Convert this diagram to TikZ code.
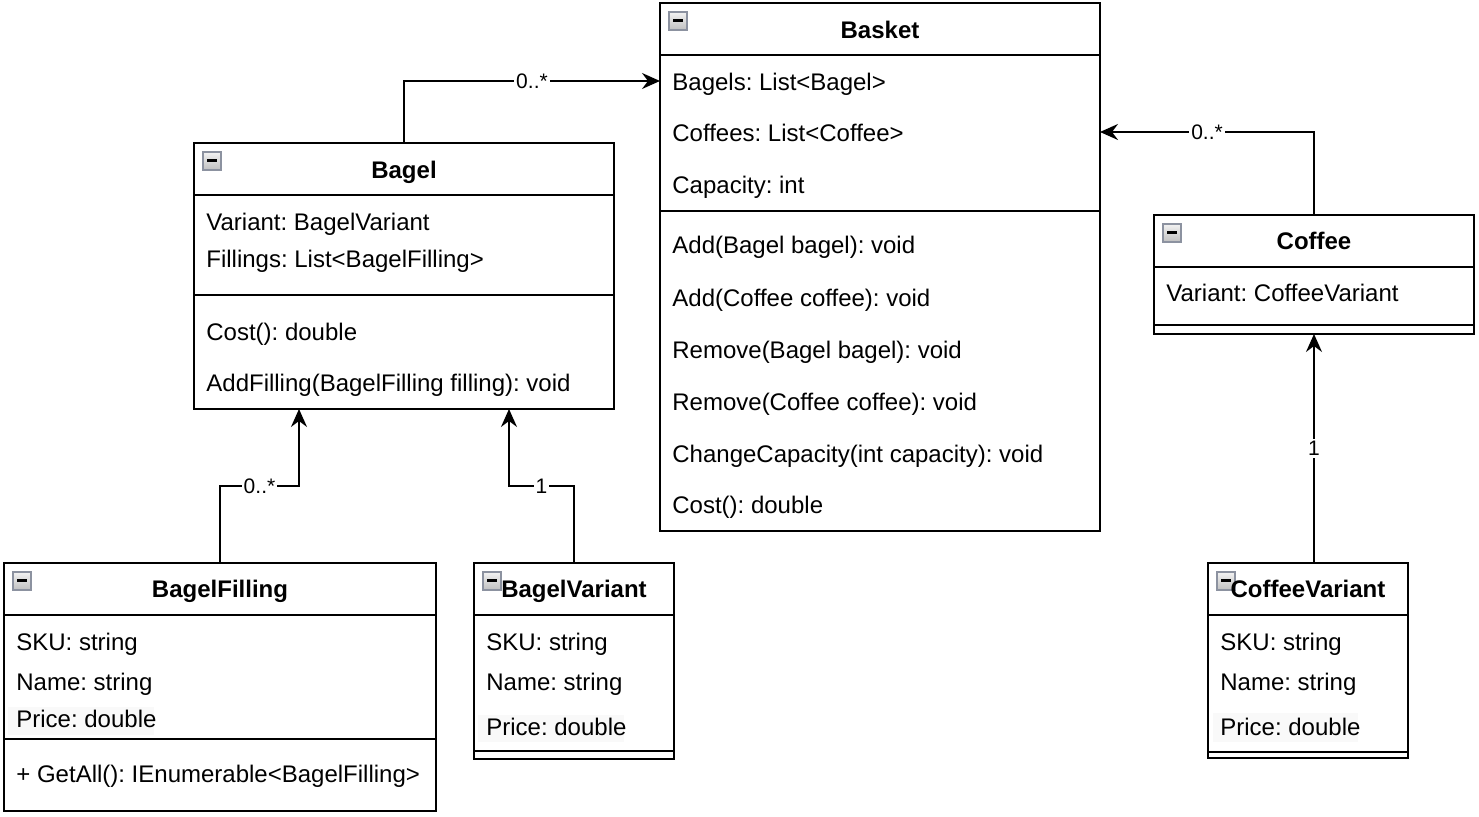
\documentclass[tikz,border=0pt]{standalone}
\usepackage{fontspec}
\setmainfont{Liberation Sans}
\usetikzlibrary{arrows.meta,calc}
\definecolor{iconborder}{RGB}{140,146,160}
\definecolor{faint}{RGB}{249,249,249}
\tikzset{
  collapse/.pic={
    \draw[line width=0.7pt, draw=iconborder, top color=gray!10, bottom color=gray!50] (0,0) rectangle (18,18);
    \draw[line width=1.4pt] (4,8.5) -- (14,8.5);
  }
}
\frenchspacing
\begin{document}
\begin{tikzpicture}[x=0.5pt,y=-0.5pt,
  box/.style={draw, line width=1pt, inner sep=0pt, outer sep=0pt, fill=white},
  txt/.style={anchor=base west, inner sep=0pt, font=\fontsize{12pt}{14pt}\selectfont},
  ttl/.style={anchor=base, inner sep=0pt, font=\fontsize{12pt}{14pt}\selectfont\bfseries},
  sepline/.style={line width=1pt},
  arr/.style={line width=1pt, -{Stealth[length=9pt,width=8pt,inset=3pt]}},
  lbl/.style={fill=white, inner sep=1pt, font=\fontsize{10.5pt}{12pt}\selectfont}
]
\useasboundingbox (0,0) rectangle (1479,817);

% ---------- boxes ----------
\node[box, minimum width=210pt, minimum height=133pt] (bagel) at (404,276) {};
\node[box, minimum width=220pt, minimum height=264pt] (basket) at (880,267) {};
\node[box, minimum width=160pt, minimum height=59.5pt] (coffee) at (1314,274.5) {};
\node[box, minimum width=216pt, minimum height=124pt] (filling) at (220,687) {};
\node[box, minimum width=100pt, minimum height=98pt] (bvariant) at (574,661) {};
\node[box, minimum width=100pt, minimum height=97.5pt] (cvariant) at (1308,660.5) {};

% faint backgrounds behind Price rows
\fill[faint] (8,707) rectangle (154,735);
\fill[faint] (478,715) rectangle (624,742);
\fill[faint] (1213,713) rectangle (1358,742);

% ---------- separators ----------
\draw[sepline] (bagel.west |- 0,195) -- (bagel.east |- 0,195);
\draw[sepline] (bagel.west |- 0,295) -- (bagel.east |- 0,295);
\draw[sepline] (basket.west |- 0,55) -- (basket.east |- 0,55);
\draw[sepline] (basket.west |- 0,211) -- (basket.east |- 0,211);
\draw[sepline] (coffee.west |- 0,267) -- (coffee.east |- 0,267);
\draw[sepline] (coffee.west |- 0,325) -- (coffee.east |- 0,325);
\draw[sepline] (filling.west |- 0,615) -- (filling.east |- 0,615);
\draw[sepline] (filling.west |- 0,739) -- (filling.east |- 0,739);
\draw[sepline] (bvariant.west |- 0,615) -- (bvariant.east |- 0,615);
\draw[sepline] (bvariant.west |- 0,751) -- (bvariant.east |- 0,751);
\draw[sepline] (cvariant.west |- 0,615) -- (cvariant.east |- 0,615);
\draw[sepline] (cvariant.west |- 0,752) -- (cvariant.east |- 0,752);

% ---------- collapse icons ----------
\pic at ($(bagel.north west)+(9,9)$) {collapse};
\pic at ($(basket.north west)+(9,9)$) {collapse};
\pic at ($(coffee.north west)+(9,9)$) {collapse};
\pic at ($(filling.north west)+(9,9)$) {collapse};
\pic at ($(bvariant.north west)+(9,9)$) {collapse};
\pic at ($(cvariant.north west)+(9,9)$) {collapse};

% ---------- Bagel ----------
\node[ttl] (bagelT) at (404,179) {Bagel};
\node[txt] (bagelA1) at (206,231) {Variant: BagelVariant};
\node[txt] (bagelA2) at (206,268) {Fillings: List<BagelFilling>};
\node[txt] (bagelM1) at (206,341) {Cost(): double};
\node[txt] (bagelM2) at (206,392) {AddFilling(BagelFilling filling): void};

% ---------- Basket ----------
\node[ttl] (basketT) at (880,39) {Basket};
\node[txt] (basketA1) at (672,91) {Bagels: List<Bagel>};
\node[txt] (basketA2) at (672,142) {Coffees: List<Coffee>};
\node[txt] (basketA3) at (672,194) {Capacity: int};
\node[txt] (basketM1) at (672,254) {Add(Bagel bagel): void};
\node[txt] (basketM2) at (672,307) {Add(Coffee coffee): void};
\node[txt] (basketM3) at (672,359) {Remove(Bagel bagel): void};
\node[txt] (basketM4) at (672,411) {Remove(Coffee coffee): void};
\node[txt] (basketM5) at (672,463) {ChangeCapacity(int capacity): void};
\node[txt] (basketM6) at (672,514) {Cost(): double};

% ---------- Coffee ----------
\node[ttl] (coffeeT) at (1314,250) {Coffee};
\node[txt] (coffeeA1) at (1166,302) {Variant: CoffeeVariant};

% ---------- BagelFilling ----------
\node[ttl] (fillingT) at (220,598) {BagelFilling};
\node[txt] (fillingA1) at (16,651) {SKU: string};
\node[txt] (fillingA2) at (16,691) {Name: string};
\node[txt] (fillingA3) at (16,728) {Price: double};
\node[txt] (fillingM1) at (16,783) {+ GetAll(): IEnumerable<BagelFilling>};

% ---------- BagelVariant ----------
\node[ttl] (bvariantT) at (574,598) {BagelVariant};
\node[txt] (bvariantA1) at (486,651) {SKU: string};
\node[txt] (bvariantA2) at (486,691) {Name: string};
\node[txt] (bvariantA3) at (486,736) {Price: double};

% ---------- CoffeeVariant ----------
\node[ttl] (cvariantT) at (1308,598) {CoffeeVariant};
\node[txt] (cvariantA1) at (1220,651) {SKU: string};
\node[txt] (cvariantA2) at (1220,691) {Name: string};
\node[txt] (cvariantA3) at (1220,736) {Price: double};

% ---------- connectors ----------
\draw[arr] (bagel.north) |- node[lbl, pos=0.75] {0..*} (basket.west |- 0,81);
\draw[arr] (coffee.north) |- node[lbl, pos=0.75] {0..*} (basket.east |- 0,132);
\draw[arr] (filling.north) |- node[lbl, pos=0.75] {0..*} ($(bagel.south west)+(105,77)$) -- ($(bagel.south west)+(105,0)$);
\draw[arr] (bvariant.north) |- node[lbl, pos=0.75] {1} ($(bagel.south west)+(315,77)$) -- ($(bagel.south west)+(315,0)$);
\draw[arr] (cvariant.north -| coffee.south) -- node[lbl] {1} (coffee.south);
\end{tikzpicture}
\end{document}
